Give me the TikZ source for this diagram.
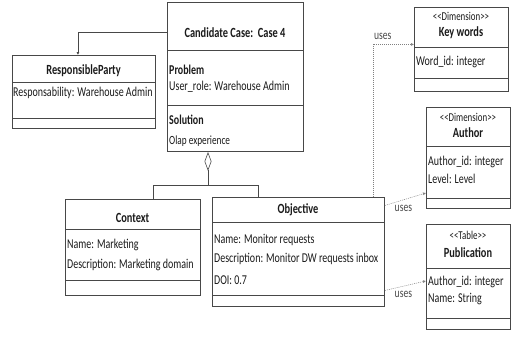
\documentclass[tikz,border=0pt]{standalone}
\usepackage{fontspec}
\setmainfont{Carlito}[FakeStretch=0.74]
\usetikzlibrary{arrows.meta}

\definecolor{linegray}{HTML}{484848}
\definecolor{textgray}{HTML}{1A1A1A}

\tikzset{
  umlbox/.style={draw=linegray, line width=0.9pt, anchor=north west, inner sep=0pt},
  sepline/.style={draw=linegray, line width=0.7pt},
  title/.style={font=\fontsize{14}{15}\selectfont\bfseries, text=textgray, inner sep=0pt},
  field/.style={font=\fontsize{13.5}{15}\selectfont, text=textgray, anchor=west, inner sep=0pt},
  stereo/.style={font=\fontsize{12}{13}\selectfont, text=textgray, inner sep=0pt},
  link/.style={draw=linegray, line width=0.6pt},
  uses/.style={draw=gray, line width=0.5pt, dash pattern=on 1pt off 1pt, -{Latex[length=3pt,width=3pt]}},
  lbl/.style={font=\fontsize{13}{14}\selectfont, text=textgray!80, inner sep=0pt}
}

% class box: name, left, top, right, bottom, first and second separator
\newcommand\classbox[7]{%
  \node[umlbox, minimum width={(#4-#2)*1pt}, minimum height={(#5-#3)*1pt}] (#1) at (#2,#3) {};
  \draw[sepline] (#1.west |- 0,#6) -- (#1.east |- 0,#6);
  \draw[sepline] (#1.west |- 0,#7) -- (#1.east |- 0,#7);
}

\begin{document}
\begin{tikzpicture}[x=1pt,y=-1pt]
    \useasboundingbox (0,0) rectangle (512,341);

    % the boxes
    \classbox{cand}{167}{2}{303}{151}{50}{105}
    \classbox{party}{12}{55}{155}{128}{82}{118}
    \classbox{ctx}{65}{199}{200}{295}{229}{280}
    \classbox{obj}{212}{197}{384}{306}{222}{295}
    \classbox{kw}{414}{7}{508}{91}{47}{78}
    \classbox{author}{426}{107}{510}{208}{146}{198}
    \classbox{pub}{426}{224}{510}{329}{268}{318}

    % texts
    \node[title] at (235,33) {Candidate Case:\ \ Case 4};
    \node[field, font=\fontsize{13.5}{15}\selectfont\bfseries] at (169,70) {Problem};
    \node[field] at (169,87) {User\_role: Warehouse Admin};
    \node[field, font=\fontsize{13.5}{15}\selectfont\bfseries] at (169,120) {Solution};
    \node[field, font=\fontsize{12.5}{14}\selectfont] at (169,141) {Olap experience};

    \node[title] at (83.5,71) {ResponsibleParty};
    \node[field] at (13,93) {Responsability: Warehouse Admin};

    \node[title] at (132.5,218) {Context};
    \node[field] at (67,245) {Name: Marketing};
    \node[field] at (67,265) {Description: Marketing domain};

    \node[title] at (298,210) {Objective};
    \node[field] at (214,240) {Name: Monitor requests};
    \node[field] at (214,259) {Description: Monitor DW requests inbox};
    \node[field] at (214,280) {DOI: 0.7};

    \node[stereo] at (461,16) {{<}{<}Dimension{>}{>}};
    \node[title] at (461,33) {Key words};
    \node[field] at (416,62) {Word\_id: integer};

    \node[stereo] at (468,117) {{<}{<}Dimension{>}{>}};
    \node[title] at (468,133) {Author};
    \node[field] at (428,162) {Author\_id: integer};
    \node[field] at (428,179) {Level: Level};

    \node[stereo] at (468,235) {{<}{<}Table{>}{>}};
    \node[title] at (468,253) {Publication};
    \node[field] at (428,282) {Author\_id: integer};
    \node[field] at (428,299) {Name: String};

    % connectors
    \draw[link, -{Latex[length=3pt,width=3pt]}] (cand.west |- 0,32) -| ([xshift=-6pt]party.north);
    \coordinate (fork) at (208,185);
    \draw[link, {Diamond[open,length=19pt,width=7pt]}-] (cand.south -| fork) -- (fork);
    \draw[link] (fork) -| ([xshift=20pt]ctx.north);
    \draw[link] (fork) -| ([xshift=46pt]obj.north west);

    \draw[uses] ([xshift=-12pt]obj.north east) |- ([yshift=5pt]kw.west)
        node[lbl, pos=0.62, above=5pt] {uses};
    \draw[uses] ([yshift=46.5pt]obj.east) -- ([yshift=-35pt]author.west)
        node[lbl, pos=0.45, below=5pt] {uses};
    \draw[uses] ([yshift=-38.5pt]obj.east) -- ([yshift=-4pt]pub.west)
        node[lbl, pos=0.45, below=5pt] {uses};
\end{tikzpicture}
\end{document}
